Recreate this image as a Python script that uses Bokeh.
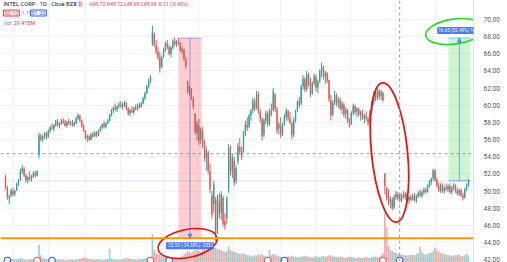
from bokeh.plotting import figure
from bokeh.models import (Range1d, FixedTicker, NumeralTickFormatter, Span, Label,
                          Arrow, NormalHead, ColumnDataSource)
from bokeh.embed import file_html
from bokeh.resources import INLINE

# ---------------- data (INTC daily) ----------------
opens = [
    51.6, 50.3, 49.2, 49.5, 50.0, 49.7, 50.1, 50.9, 51.3, 52.3,
    52.6, 51.8, 51.3, 51.6, 51.5, 51.7, 52.0, 51.8, 54.2, 56.4,
    56.0, 56.4, 56.7, 56.3, 57.0, 57.4, 57.3, 57.7, 58.1, 57.7,
    57.9, 58.2, 58.0, 57.6, 58.1, 57.9, 58.0, 57.7, 57.9, 58.5,
    58.8, 58.2, 57.6, 57.0, 56.2, 56.4, 56.0, 56.6, 56.4, 56.8,
    56.5, 57.1, 57.4, 57.8, 57.5, 57.9, 58.2, 58.9, 59.4, 59.7,
    59.5, 59.9, 60.1, 59.9, 60.2, 60.3, 59.6, 59.0, 59.4, 59.2,
    59.7, 59.5, 60.0, 59.8, 60.2, 60.8, 61.4, 62.2, 62.9, 67.2,
    68.3, 67.0, 66.2, 65.6, 64.5, 65.7, 66.5, 67.2, 66.8, 66.0,
    66.7, 67.5, 67.1, 67.4, 67.2, 66.4, 66.5, 65.3, 62.8, 61.6,
    61.8, 60.8, 59.0, 56.8, 57.6, 56.0, 57.0, 55.3, 53.8, 54.5,
    52.3, 49.5, 48.5, 49.0, 45.5, 48.8, 47.5, 49.2, 46.5, 46.8,
    50.2, 54.5, 52.3, 53.5, 51.2, 53.5, 55.1, 54.7, 54.6, 56.9,
    57.8, 57.5, 58.8, 59.4, 60.4, 59.7, 61.3, 59.2, 58.4, 56.6,
    58.2, 59.0, 57.9, 59.3, 59.4, 61.3, 59.5, 57.3, 57.6, 56.7,
    57.9, 58.6, 59.3, 58.5, 57.9, 56.6, 58.4, 59.4, 60.4, 60.2,
    62.2, 63.0, 61.9, 63.5, 62.6, 61.4, 62.6, 63.3, 62.1, 62.8,
    64.0, 64.4, 63.4, 63.7, 62.9, 60.6, 58.9, 60.3, 61.1, 60.3,
    60.6, 59.6, 60.1, 59.0, 59.4, 58.1, 57.9, 59.1, 59.9, 59.3,
    59.5, 58.9, 59.1, 58.5, 58.7, 58.4, 58.0, 59.4, 60.3, 61.3,
    60.9, 61.7, 61.1, 61.4, 52.0, 50.4, 49.3, 48.7, 49.0, 48.1,
    49.3, 49.6, 49.72, 48.9, 49.5, 49.3, 49.6, 48.9, 49.3, 49.0,
    49.5, 48.9, 49.4, 49.8, 49.5, 49.9, 50.2, 49.9, 50.6, 51.1,
    51.5, 52.4, 51.3, 50.6, 50.0, 50.7, 50.0, 50.4, 50.2, 50.6,
    49.9, 50.4, 50.7, 50.0, 49.7, 50.1, 49.5, 49.3, 50.2, 50.7,
]
highs = [
    51.9, 50.6, 49.6, 50.3, 50.4, 50.2, 51.0, 51.4, 52.6, 53.0,
    52.8, 52.0, 51.8, 52.3, 51.9, 52.3, 52.4, 52.4, 56.8, 56.7,
    56.6, 56.9, 56.9, 57.2, 57.6, 57.9, 57.8, 58.3, 58.4, 58.0,
    58.4, 58.5, 58.3, 58.2, 58.4, 58.2, 58.3, 58.1, 58.7, 59.1,
    58.9, 58.3, 57.8, 57.1, 56.6, 56.5, 56.8, 56.9, 57.0, 57.0,
    57.2, 57.6, 57.9, 58.2, 58.0, 58.4, 59.0, 59.6, 59.9, 60.2,
    60.0, 60.4, 60.5, 60.3, 60.5, 60.4, 59.8, 59.6, 59.9, 59.8,
    60.1, 60.2, 60.3, 60.4, 61.0, 61.6, 62.4, 63.1, 63.5, 69.3,
    68.5, 67.6, 66.8, 66.2, 65.8, 66.7, 67.4, 67.6, 67.0, 66.9,
    67.7, 67.9, 67.6, 67.83, 67.4, 66.9, 66.6, 65.6, 62.9, 62.3,
    62.0, 61.0, 59.1, 58.2, 58.4, 57.4, 57.5, 56.0, 55.2, 54.7,
    53.2, 50.0, 51.2, 49.3, 49.6, 49.8, 50.0, 49.5, 47.4, 49.4,
    55.5, 55.3, 54.4, 54.0, 53.0, 55.6, 56.2, 55.2, 57.0, 58.2,
    58.6, 59.0, 59.6, 60.9, 60.8, 61.7, 61.6, 59.6, 58.6, 58.5,
    59.4, 59.3, 59.6, 60.2, 62.0, 61.4, 59.8, 58.1, 58.6, 58.0,
    59.0, 59.7, 59.5, 59.2, 58.1, 58.6, 59.5, 60.6, 61.0, 62.4,
    63.5, 63.3, 64.0, 63.8, 63.2, 62.8, 63.7, 63.6, 63.0, 64.2,
    65.0, 64.6, 64.0, 63.9, 63.0, 61.2, 60.6, 61.7, 61.4, 61.0,
    60.9, 60.5, 60.3, 59.8, 59.6, 58.5, 59.3, 60.2, 60.1, 59.8,
    59.7, 59.4, 59.5, 59.0, 59.3, 58.7, 59.5, 60.5, 61.6, 61.7,
    62.0, 61.9, 61.8, 61.6, 52.1, 50.5, 50.2, 49.4, 49.3, 49.6,
    50.0, 49.9, 49.72, 49.7, 50.0, 49.9, 49.8, 49.5, 49.6, 49.7,
    49.8, 49.6, 50.0, 50.2, 50.1, 50.4, 50.4, 50.8, 51.3, 51.6,
    52.6, 52.6, 51.6, 51.0, 50.9, 50.9, 50.6, 50.9, 50.8, 50.9,
    50.6, 50.9, 50.8, 50.4, 50.3, 50.3, 49.8, 50.4, 50.9, 51.4,
]
lows = [
    50.2, 49.0, 48.5, 49.3, 49.4, 49.4, 50.0, 50.6, 51.2, 52.0,
    51.6, 51.0, 50.9, 51.2, 51.1, 51.5, 51.6, 51.7, 53.8, 55.8,
    55.7, 56.1, 56.0, 56.2, 56.8, 57.1, 57.0, 57.5, 57.5, 57.3,
    57.7, 57.8, 57.5, 57.4, 57.7, 57.6, 57.5, 57.5, 57.8, 58.3,
    58.0, 57.4, 56.9, 56.0, 55.7, 55.8, 55.9, 56.2, 56.3, 56.3,
    56.4, 56.9, 57.2, 57.3, 57.3, 57.8, 58.1, 58.7, 59.1, 59.3,
    59.2, 59.6, 59.7, 59.5, 59.8, 59.4, 58.8, 58.7, 59.1, 58.9,
    59.4, 59.4, 59.6, 59.7, 60.1, 60.6, 61.3, 62.0, 62.6, 66.9,
    66.8, 65.9, 65.3, 63.8, 64.3, 65.5, 66.2, 66.5, 65.8, 65.6,
    66.5, 66.9, 66.8, 67.0, 66.2, 66.0, 65.2, 64.3, 61.3, 61.1,
    60.6, 59.5, 56.6, 55.9, 55.4, 55.5, 55.0, 53.5, 52.4, 52.0,
    49.8, 46.8, 47.5, 44.2, 45.0, 46.8, 46.6, 45.9, 45.5, 46.2,
    49.8, 51.8, 51.5, 50.6, 50.8, 53.1, 54.2, 53.6, 54.5, 56.4,
    57.0, 57.3, 58.2, 59.1, 59.3, 59.5, 59.0, 58.0, 55.9, 56.3,
    57.8, 57.5, 57.6, 58.7, 59.3, 59.2, 56.7, 56.6, 56.2, 56.4,
    57.6, 58.2, 58.2, 57.8, 56.0, 56.3, 58.0, 59.2, 59.7, 60.0,
    61.8, 61.5, 61.6, 62.2, 60.9, 61.2, 62.3, 61.6, 61.4, 62.6,
    63.3, 63.0, 62.5, 62.6, 60.4, 58.2, 58.7, 60.0, 59.9, 59.7,
    59.4, 59.0, 58.6, 58.4, 57.9, 57.4, 57.7, 58.8, 58.9, 58.6,
    58.7, 58.2, 58.3, 57.9, 58.2, 57.6, 57.8, 59.1, 60.0, 60.5,
    60.6, 60.7, 60.6, 60.4, 49.6, 48.9, 48.3, 48.0, 47.7, 47.9,
    49.0, 48.9, 48.68, 48.7, 49.1, 49.0, 48.6, 48.5, 48.8, 48.9,
    48.7, 48.6, 49.2, 49.3, 49.2, 49.6, 49.7, 49.8, 50.4, 50.7,
    51.2, 51.1, 50.4, 49.9, 49.8, 49.8, 49.7, 50.0, 49.9, 49.7,
    49.6, 50.1, 49.8, 49.5, 49.4, 49.3, 48.9, 49.1, 50.0, 50.5,
]
closes = [
    50.4, 49.3, 49.4, 50.1, 49.6, 50.0, 50.8, 51.2, 52.4, 52.7,
    51.8, 51.3, 51.6, 51.4, 51.7, 52.1, 51.8, 52.3, 56.5, 56.0,
    56.4, 56.7, 56.2, 57.0, 57.4, 57.3, 57.7, 58.1, 57.7, 57.9,
    58.2, 58.0, 57.6, 58.1, 57.9, 58.0, 57.7, 57.9, 58.5, 58.8,
    58.2, 57.6, 57.1, 56.2, 56.4, 56.0, 56.6, 56.4, 56.8, 56.5,
    57.1, 57.4, 57.8, 57.5, 57.9, 58.2, 58.9, 59.4, 59.7, 59.5,
    59.9, 60.1, 59.9, 60.2, 60.3, 59.6, 59.0, 59.4, 59.2, 59.7,
    59.5, 60.0, 59.8, 60.2, 60.8, 61.4, 62.2, 62.9, 63.3, 68.5,
    67.1, 66.2, 65.6, 64.4, 65.6, 66.5, 67.2, 66.8, 66.0, 66.7,
    67.5, 67.1, 67.4, 67.2, 66.4, 66.6, 65.4, 64.6, 61.6, 61.9,
    60.9, 59.8, 56.9, 57.8, 55.8, 57.2, 55.4, 53.9, 54.8, 52.4,
    50.2, 47.2, 50.8, 45.0, 49.2, 47.3, 49.6, 46.2, 46.0, 49.2,
    55.0, 52.3, 53.9, 51.0, 52.7, 55.2, 54.6, 54.0, 56.8, 57.8,
    57.4, 58.8, 59.3, 60.5, 59.6, 61.3, 59.3, 58.4, 56.4, 58.2,
    59.1, 57.8, 59.4, 59.0, 61.6, 59.6, 57.1, 57.8, 56.6, 57.8,
    58.7, 59.4, 58.5, 58.0, 56.5, 58.3, 59.3, 60.4, 60.0, 62.1,
    63.1, 61.8, 63.6, 62.5, 61.3, 62.6, 63.4, 62.0, 62.7, 64.0,
    64.5, 63.4, 63.8, 62.9, 60.7, 58.8, 60.3, 61.2, 60.2, 60.7,
    59.6, 60.2, 58.9, 59.5, 58.2, 57.8, 59.1, 59.9, 59.2, 59.6,
    58.9, 59.2, 58.5, 58.8, 58.4, 57.9, 59.3, 60.2, 61.3, 60.8,
    61.7, 61.0, 61.5, 60.6, 50.6, 49.2, 48.6, 49.1, 48.0, 49.3,
    49.7, 49.14, 48.93, 49.5, 49.3, 49.7, 48.9, 49.3, 49.0, 49.5,
    48.9, 49.4, 49.8, 49.5, 49.9, 50.2, 49.9, 50.6, 51.1, 51.4,
    52.4, 51.3, 50.6, 50.1, 50.7, 50.0, 50.4, 50.2, 50.6, 49.9,
    50.4, 50.7, 50.0, 49.7, 50.1, 49.5, 49.2, 50.2, 50.7, 51.19,
]
volumes = [  # millions
    18, 22, 25, 17, 15, 14, 16, 15, 20, 19,
    14, 13, 12, 15, 14, 16, 13, 22, 85, 35,
    22, 18, 16, 15, 14, 17, 13, 12, 15, 14,
    13, 16, 12, 11, 14, 13, 15, 12, 14, 16,
    18, 20, 22, 25, 18, 17, 15, 16, 14, 13,
    15, 14, 12, 13, 15, 17, 65, 19, 16, 14,
    13, 14, 13, 16, 18, 20, 22, 17, 15, 16,
    14, 13, 15, 18, 17, 20, 22, 25, 28, 135,
    60, 45, 40, 38, 30, 28, 25, 27, 30, 24,
    22, 25, 23, 24, 26, 30, 38, 45, 55, 50,
    48, 52, 60, 58, 55, 50, 60, 65, 58, 62,
    70, 75, 68, 72, 65, 60, 58, 55, 50, 52,
    75, 60, 55, 50, 48, 45, 42, 40, 44, 38,
    36, 34, 32, 30, 35, 33, 38, 36, 40, 32,
    30, 28, 60, 35, 40, 38, 33, 30, 28, 26,
    25, 27, 30, 28, 32, 29, 27, 25, 26, 28,
    30, 32, 29, 27, 25, 24, 28, 30, 27, 26,
    29, 31, 28, 30, 33, 35, 30, 28, 26, 25,
    27, 29, 24, 23, 25, 27, 26, 24, 22, 23,
    25, 21, 22, 24, 26, 23, 22, 25, 27, 30,
    28, 26, 35, 45, 235, 170, 80, 60, 55, 48,
    45, 42, 40, 38, 36, 35, 33, 34, 38, 36,
    35, 40, 45, 75, 50, 42, 38, 40, 45, 48,
    55, 70, 60, 50, 45, 42, 40, 38, 36, 35,
    33, 32, 34, 36, 38, 30, 32, 35, 40, 33,
]
# earnings (red) and dividend (blue) event markers: candle index
earnings_idx = [17, 78, 141, 203]
dividend_idx = [1, 25, 88, 150, 212]
price_ticks = [42, 44, 46, 48, 50, 52, 54, 56, 58, 60, 62, 64, 66, 68, 70]
currency = "USD"
time_grid = [4.3, 23.1, 43.0, 61.8, 85.1, 103.9, 122.8, 148.0, 166.8, 185.6, 209.8, 231.3]

# drawings (price-range tools, lines) in chart coordinates
drop_range = dict(left=93.0, right=105.4, start=67.83, end=44.51, text="-23.32 (-34.38%) -2332")
rise_range = dict(left=238.2, right=250.0, start=51.19, end=67.84, text="16.65 (32.49%) 1665")
support_level = 44.51
last_price = 51.19
cross_idx, cross_price = 212, 54.36

# ---------------- figure ----------------
X0, X1 = -2.7, 251.7
Y0, Y1 = 41.68, 72.21
FW, FH = 473, 262


def px2x(px):
    return X0 + px * (X1 - X0) / FW


def py2y(py):
    return Y1 - py * (Y1 - Y0) / FH


UP, DOWN = "#26a69a", "#ef5350"
n = len(closes)
idx = list(range(n))
colors = [UP if c >= o else DOWN for o, c in zip(opens, closes)]
src = ColumnDataSource(dict(
    x=idx, o=opens, h=highs, l=lows, c=closes,
    top=[max(o, c) for o, c in zip(opens, closes)],
    bottom=[min(o, c) for o, c in zip(opens, closes)],
    color=colors, vol=volumes,
))

p = figure(width=507, height=262, x_range=Range1d(X0, X1), y_range=Range1d(Y0, Y1),
           x_axis_location=None, y_axis_location="right",
           toolbar_location=None, output_backend="svg",
           min_border_left=0, min_border_right=34, min_border_top=0, min_border_bottom=0)
p.outline_line_color = None
p.background_fill_color = "white"

FONT = "Roboto"
ax = p.yaxis[0]
ax.ticker = FixedTicker(ticks=price_ticks)
ax.formatter = NumeralTickFormatter(format="0.00")
ax.major_tick_line_color = None
ax.minor_tick_line_color = None
ax.major_tick_out = 0
ax.major_tick_in = 0
ax.major_label_standoff = 10
ax.axis_line_color = "#e0e3eb"
ax.major_label_text_font_size = "6.5px"
ax.major_label_text_color = "#50535e"
ax.major_label_text_font = FONT
p.ygrid.ticker = FixedTicker(ticks=price_ticks)
p.xgrid.ticker = FixedTicker(ticks=time_grid)
p.xgrid.grid_line_color = "#f0f3fa"
p.ygrid.grid_line_color = "#f0f3fa"

# volume overlay
p.extra_y_ranges = {"vol": Range1d(0, 1250)}
p.vbar(x="x", top="vol", bottom=0, width=0.85, fill_color="color", fill_alpha=0.5,
       line_color=None, y_range_name="vol", source=src)

# support / last / crosshair lines
p.add_layout(Span(location=last_price, dimension="width", line_color="#2962ff", line_alpha=0.18, line_width=1))
p.add_layout(Span(location=support_level, dimension="width", line_color="#ff9800", line_width=2))
p.add_layout(Span(location=cross_price, dimension="width", line_color="#9598a1", line_dash="3 3", line_width=1))
p.add_layout(Span(location=cross_idx, dimension="height", line_color="#9598a1", line_dash="3 3", line_width=1))

# candles
p.segment(x0="x", y0="l", x1="x", y1="h", line_color="color", line_width=1, source=src)
p.vbar(x="x", top="top", bottom="bottom", width=0.72, fill_color="color", line_color=None, source=src)

# event markers along the bottom edge
ev_y = py2y(260)
p.scatter(x=earnings_idx, y=[ev_y] * len(earnings_idx), size=6.5, marker="circle",
          fill_color="white", line_color="#f7525f", line_width=1.1)
p.scatter(x=dividend_idx, y=[ev_y] * len(dividend_idx), size=6.5, marker="circle",
          fill_color="white", line_color="#2962ff", line_width=1.1)

# price range drawings
BLUE = "#2962ff"
for rng, fill in ((drop_range, "#ff3b3b"), (rise_range, "#3ddc3d")):
    lo, hi = min(rng["start"], rng["end"]), max(rng["start"], rng["end"])
    p.quad(left=[rng["left"]], right=[rng["right"]], top=[hi], bottom=[lo],
           fill_color=fill, fill_alpha=0.25, line_color=None)
    p.segment(x0=[rng["left"], rng["left"]], x1=[rng["right"], rng["right"]],
              y0=[hi, lo], y1=[hi, lo], line_color=BLUE, line_alpha=0.45, line_width=1)
    mid = (rng["left"] + rng["right"]) / 2
    p.add_layout(Arrow(x_start=mid, y_start=rng["start"], x_end=mid, y_end=rng["end"],
                       line_color=BLUE, line_alpha=0.55, line_width=1,
                       end=NormalHead(size=4, fill_color=BLUE, fill_alpha=0.6, line_color=BLUE, line_alpha=0.6)))
    down = rng["end"] < rng["start"]
    p.add_layout(Label(x=mid, y=rng["end"], text=rng["text"], text_align="center",
                       text_baseline="top" if down else "bottom",
                       y_offset=-4 if down else 4,
                       text_font=FONT, text_font_size="4.6px", text_color="white",
                       background_fill_color="#2962ff", background_fill_alpha=0.85,
                       padding=1, border_radius=1))

# hand-drawn highlight loops
p.ellipse(x=[px2x(454)], y=[py2y(31)], width=[58], height=[25], width_units="screen",
          height_units="screen", angle=0.14, fill_color=None, line_color="#22dd22", line_width=1.6)
p.ellipse(x=[px2x(187)], y=[py2y(243)], width=[60], height=[28], width_units="screen",
          height_units="screen", angle=0.2, fill_color=None, line_color="#ee1111", line_width=1.6)
p.ellipse(x=[px2x(389)], y=[py2y(152)], width=[36], height=[140], width_units="screen",
          height_units="screen", angle=0.1, fill_color=None, line_color="#ee1111", line_width=1.8)


def tag(px, y, text, bg, color="white", yoff=0, border=None, size="5.5px", level="annotation"):
    p.add_layout(Label(x=px, y=y, x_units="screen", text=text, text_baseline="middle",
                       y_offset=yoff, text_font=FONT, text_font_size=size, text_color=color,
                       background_fill_color=bg, border_line_color=border, padding=1,
                       level=level))


# price tags on the scale
tag(481, cross_price, "+", "#131722")
tag(487, cross_price, "54.36", "#363a45")
tag(488, last_price, "51.19", "#f23645")
tag(476, last_price, "Post  51.19", "#2196f3", yoff=-7)
tag(487, support_level, "44.51", "#ff9800")
tag(486, py2y(6.5), currency, "white", color="#50535e", border="#b2b5be", size="6px", level="overlay")

# legend / header texts
def hdr(px, py, text, color, bg=None, border=None, size="5.5px"):
    p.add_layout(Label(x=px, y=py2y(py), x_units="screen", text=text, text_baseline="middle",
                       text_font=FONT, text_font_size=size, text_color=color,
                       background_fill_color=bg, border_line_color=border, padding=1))


hdr(2, 3.5, "INTEL CORP · 1D · Cboe BZX", "#131722", size="5.8px")
hdr(72, 3.5, "E", "#2962ff", size="5px")
hdr(77, 3.5, "D", "#9c27b0", bg="#fce4ec", size="5px")
hdr(88, 3.5, "O49.72 H49.72 L48.68 C48.93 -0.21 (-0.43%)", "#f23645", size="5px")
hdr(3, 12.5, "50.10", "#f23645", border="#f23645")
hdr(20, 12.5, "1.10", "#787b86")
hdr(30, 12.5, "51.20", "#2962ff", border="#2962ff")
hdr(2, 22, "Vol", "#787b86")
hdr(12, 22, "29.475M", "#f23645")

open("out.html", "w").write(file_html(p, INLINE))
